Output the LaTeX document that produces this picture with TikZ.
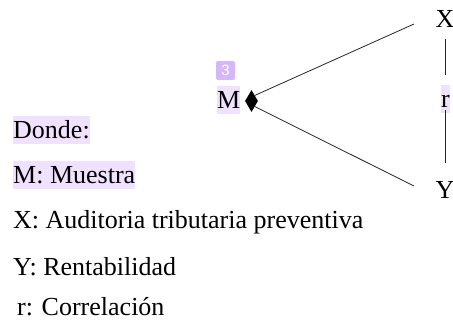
\documentclass[tikz,border=0pt]{standalone}
\usepackage{fontspec}
\setmainfont{Liberation Serif}
\setsansfont{Liberation Sans}
\usetikzlibrary{shapes.geometric}
\definecolor{hl}{RGB}{240,226,255}
\definecolor{badgec}{RGB}{214,184,250}
\begin{document}
\begin{tikzpicture}[x=1pt,y=-1pt,
  txt/.style={inner sep=0pt, anchor=base west, font=\fontsize{26}{30}\selectfont},
  hltxt/.style={txt, fill=hl, text height=22pt, text depth=6pt},
  var/.style={inner sep=0pt, anchor=base, font=\fontsize{26}{30}\selectfont, text height=18pt, text depth=0pt},
  conn/.style={draw=black!85, line width=0.8pt}]
\useasboundingbox (0,0) rectangle (453,322);
% legend
\node[hltxt] (donde) at (13,138) {Donde:};
\node[hltxt] (lm) at (13,183) {M: Muestra};
\node[txt] (lx) at (13,228) {X: Auditoria tributaria preventiva};
\node[txt] (ly) at (13,275) {Y: Rentabilidad};
\node[txt] (lr) at (17,315) {r: Correlación};
% diagram
\node[hltxt] (M) at (217,108) {M};
\node[fill=badgec, rounded corners=2pt, minimum width=19pt, minimum height=19pt, inner sep=0pt,
      text=white, font=\sffamily\fontsize{15}{15}\selectfont] (badge) at (225.5,70.5) {3};
\node[diamond, fill=black, inner sep=0pt, minimum width=13pt, minimum height=22pt] (dm) at (251.5,101) {};
\node[var] (X) at (445,27) {X};
\node[var] (Y) at (445,198) {Y};
\node[hltxt, anchor=base] (r) at (445.5,107) {r};
\coordinate (xend) at (414,24);
\coordinate (yend) at (414,186);
\draw[conn] (dm.north east) -- (xend);
\draw[conn] (dm.south east) -- (yend);
\draw[conn, shorten <=12pt, shorten >=10pt] (X.south) -- (r.north -| X.south);
\draw[conn, shorten <=-3pt, shorten >=17pt] (r.south -| Y.north) -- (Y.north);
\end{tikzpicture}
\end{document}
